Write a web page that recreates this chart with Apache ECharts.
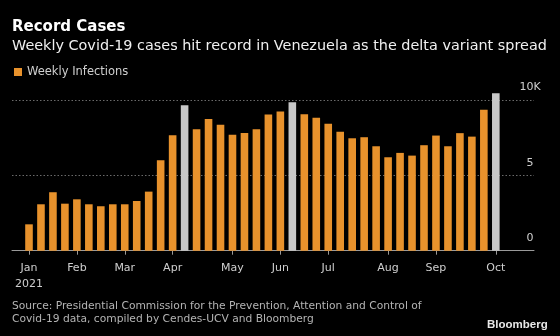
<!DOCTYPE html>
<html><head><meta charset="utf-8">
<script src="https://cdn.jsdelivr.net/npm/echarts@6/dist/echarts.min.js"></script>
<style>html,body{margin:0;padding:0;background:#000;}#c{width:560px;height:336px;}</style>
</head><body><div id="c"></div>
<script>
// Weekly infections (cases)
const weeklyInfections = [1750, 3080, 3880, 3120, 3410, 3080, 2950, 3080, 3080, 3300,
  3920, 6000, 7660, 9650, 8060, 8740, 8350, 7700, 7810, 8060,
  9030, 9230, 9850, 9060, 8830, 8430, 7900, 7460, 7530, 6930,
  6200, 6490, 6310, 7000, 7640, 6930, 7800, 7570, 9360, 10450];
const recordWeeks = [13, 22, 39];
const monthTickIdx = [0, 4, 8, 12, 17, 21, 25, 30, 34, 39];
const monthLabels = ['Jan\n2021', 'Feb', 'Mar', 'Apr', 'May', 'Jun', 'Jul', 'Aug', 'Sep', 'Oct'];
const yTicks = [0, 5000, 10000];
const yTickLabels = ['0', '5', '10K'];

const FONT = '"DejaVu Sans", sans-serif';
const ORANGE = '#e8922c';
const GRAY = '#c8c8c8';

const chart = echarts.init(document.getElementById('c'), null, {renderer: 'canvas'});
const barData = weeklyInfections.map((v, i) => ({
  value: [i, v],
  itemStyle: {color: recordWeeks.includes(i) ? GRAY : ORANGE}
}));

chart.setOption({
  backgroundColor: '#000',
  animation: false,
  grid: {left: 12, right: 26, top: 100, bottom: 85.3},
  xAxis: {
    type: 'value', min: -1.42, max: 42.19,
    splitLine: {show: false},
    axisLine: {show: true, onZero: false, lineStyle: {color: '#9a9a9a', width: 1}},
    axisTick: {show: true, customValues: monthTickIdx, length: 4, lineStyle: {color: '#9a9a9a'}},
    axisLabel: {
      customValues: monthTickIdx, color: '#cfcfcf', fontFamily: FONT, fontSize: 11,
      lineHeight: 16, margin: 9,
      formatter: v => monthLabels[monthTickIdx.indexOf(Math.round(v))] || ''
    }
  },
  yAxis: {
    type: 'value', position: 'right', min: 0, max: 10000, interval: 5000,
    axisLine: {show: false}, axisTick: {show: false},
    splitLine: {show: true, lineStyle: {color: '#6a6a6a', type: [1.5, 2], width: 1}},
    axisLabel: {
      inside: true, align: 'center', verticalAlign: 'bottom', margin: 4,
      lineHeight: 14, padding: [0, 0, 5.5, 0],
      color: '#cfcfcf', fontFamily: FONT, fontSize: 11,
      formatter: v => yTickLabels[yTicks.indexOf(v)]
    }
  },
  series: [{
    type: 'bar', name: 'Weekly Infections', data: barData, barWidth: 7.6, clip: false
  }],
  graphic: [
    {type: 'text', x: 12, y: 27, style: {text: 'Record Cases', fill: '#ffffff', font: 'bold 15px ' + FONT, verticalAlign: 'middle'}},
    {type: 'text', x: 12, y: 46, style: {text: 'Weekly Covid-19 cases hit record in Venezuela as the delta variant spread', fill: '#f0f0f0', font: '14.4px ' + FONT, verticalAlign: 'middle'}},
    {type: 'rect', x: 14, y: 68, shape: {width: 8, height: 8}, style: {fill: ORANGE}},
    {type: 'text', x: 27, y: 72.5, style: {text: 'Weekly Infections', fill: '#cfcfcf', font: '11.5px ' + FONT, verticalAlign: 'middle'}},
    {type: 'text', x: 12, y: 306.7, style: {text: 'Source: Presidential Commission for the Prevention, Attention and Control of', fill: '#b4b4b4', font: '10.7px ' + FONT, verticalAlign: 'middle'}},
    {type: 'text', x: 12, y: 319, style: {text: 'Covid-19 data, compiled by Cendes-UCV and Bloomberg', fill: '#b4b4b4', font: '10.7px ' + FONT, verticalAlign: 'middle'}},
    {type: 'text', x: 487, y: 324.5, style: {text: 'Bloomberg', fill: '#e8e8e8', font: 'bold 11.5px "Liberation Sans", Arial, sans-serif', verticalAlign: 'middle'}}
  ]
});
</script></body></html>
